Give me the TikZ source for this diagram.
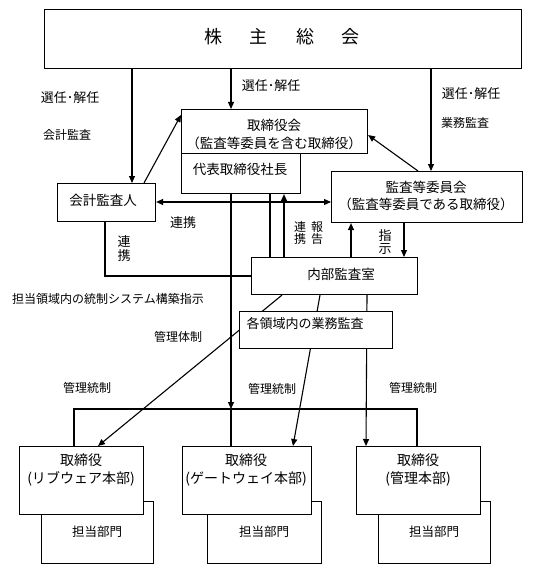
\documentclass[tikz,border=0pt]{standalone}
\usepackage{fontspec}
\setmainfont{Noto Sans CJK JP}
\usetikzlibrary{arrows.meta}
\begin{document}
\begin{tikzpicture}[x=1pt,y=-1pt,
  box/.style={draw, line width=1.1pt, fill=white, inner sep=0pt, anchor=north west},
  txt/.style={inner sep=0pt, align=center, font=\fontsize{13.5}{18}\selectfont},
  lbl/.style={inner sep=0pt, align=center, font=\fontsize{12}{14}\selectfont},
  ln/.style={line width=1.1pt},
  arr/.style={line width=1.1pt, -{Triangle[length=7pt,width=6pt]}},
  darr/.style={line width=1.1pt, {Triangle[length=7pt,width=6pt]}-{Triangle[length=7pt,width=6pt]}}]
\fill[white] (0,0) rectangle (536,575);
\useasboundingbox (0,0) rectangle (536,575);

% top boxes
\node[box, minimum width=477pt, minimum height=59pt] (soukai) at (44,9) {};
\node[txt, font=\fontsize{18}{20}\selectfont] (tsoukai) at (282,37) {株\hspace{28pt}主\hspace{28pt}総\hspace{28pt}会};
\node[box, minimum width=186pt, minimum height=44pt] (torikai) at (181,109) {};
\node[txt] (ttorikai) at (274,134) {取締役会\\（監査等委員を含む取締役）};
\node[box, minimum width=119pt, minimum height=40pt] (daihyo) at (181,153) {};
\node[txt] (tdaihyo) at (240,169) {代表取締役社長};
\node[box, minimum width=98pt, minimum height=38pt] (kaikei) at (57,183) {};
\node[txt] (tkaikei) at (103,200) {会計監査人};
\node[box, minimum width=191pt, minimum height=51pt] (kansa) at (331,171) {};
\node[txt, font=\fontsize{13.5}{17}\selectfont] (tkansa) at (426,196) {監査等委員会\\（監査等委員である取締役）};
\node[box, minimum width=166pt, minimum height=37pt] (naibu) at (251,257) {};
\node[txt] (tnaibu) at (341,274) {内部監査室};

% bottom boxes
\node[box, minimum width=112pt, minimum height=62pt] (d1) at (41,501) {};
\node[box, minimum width=114pt, minimum height=62pt] (d2) at (207,501) {};
\node[box, minimum width=112pt, minimum height=62pt] (d3) at (378,501) {};
\node[lbl, font=\fontsize{12.5}{14}\selectfont] (td1) at (97,532) {担当部門};
\node[lbl, font=\fontsize{12.5}{14}\selectfont] (td2) at (264,532) {担当部門};
\node[lbl, font=\fontsize{12.5}{14}\selectfont] (td3) at (434,532) {担当部門};
\node[box, minimum width=124pt, minimum height=68pt] (b1) at (19,446) {};
\node[box, minimum width=129pt, minimum height=68pt] (b2) at (182,446) {};
\node[box, minimum width=124pt, minimum height=68pt] (b3) at (356,446) {};
\node[txt, font=\fontsize{14}{18}\selectfont] (tb1) at (81,470) {取締役\\(リブウェア本部)};
\node[txt, font=\fontsize{14}{18}\selectfont] (tb2) at (246,470) {取締役\\(ゲートウェイ本部)};
\node[txt, font=\fontsize{14}{18}\selectfont] (tb3) at (418,470) {取締役\\(管理本部)};

% connectors from the shareholders meeting
\draw[arr] (soukai.south -| 132,0) -- (kaikei.north -| 132,0);
\draw[arr] (soukai.south -| 231,0) -- (torikai.north -| 231,0);
\draw[arr] (soukai.south -| 431,0) -- (kansa.north -| 431,0);
\draw[arr] (kaikei.north -| 144,0) -- (torikai.west |- 0,115);
\draw[arr] (kansa.north -| 418,0) -- (torikai.east |- 0,135);

% middle
\draw[ln] (daihyo.south -| 270,0) -- (naibu.north -| 270,0);
\draw[arr] (naibu.north -| 284,0) -- (daihyo.south -| 284,0);
\draw[arr] (naibu.north -| 351,0) -- (kansa.south -| 351,0);
\draw[arr] (kansa.south -| 404,0) -- (naibu.north -| 404,0);
\draw[ln] (kaikei.south -| 105,0) |- (naibu.west |- 0,276);
\coordinate (bus) at (231,409);
\coordinate (busL) at (74,409);
\coordinate (busR) at (417,409);
\draw[arr] (daihyo.south -| bus) -- (bus);
\draw[ln] (b1.north -| busL) -- (busL) -- (busR) -- (b3.north -| busR);
\draw[ln] (bus) -- (b2.north -| bus);
\draw[darr] (kaikei.east |- 0,202) -- (kansa.west |- 0,202);

% lines from internal audit down to the divisions
\draw[arr] (naibu.south -| 282,0) -- (b1.north -| 98,0);
\draw[arr] (naibu.south -| 320,0) -- (b2.north -| 293,0);
\draw[arr] (naibu.south -| 367,0) -- (b3.north -| 366,0);
\node[box, minimum width=153pt, minimum height=37pt] (kaku) at (239,311) {};
\node[txt, font=\fontsize{13}{16}\selectfont] (tkaku) at (305,324) {各領域内の業務監査};

% labels
\node[lbl, font=\fontsize{13}{15}\selectfont] (l1) at (70,98) {選任･解任};
\node[lbl] (l2) at (67,135) {会計監査};
\node[lbl, font=\fontsize{13}{15}\selectfont] (l3) at (271,86) {選任･解任};
\node[lbl, font=\fontsize{13}{15}\selectfont] (l4) at (471,94) {選任･解任};
\node[lbl] (l5) at (465,123) {業務監査};
\node[lbl, font=\fontsize{13}{15}\selectfont] (l6) at (183,223) {連携};
\node[lbl, font=\fontsize{13}{14}\selectfont] (l7) at (124,249) {連\\携};
\node[lbl, font=\fontsize{12}{12}\selectfont] (l8) at (300,233) {連\\携};
\node[lbl, font=\fontsize{12}{12}\selectfont] (l9) at (317,233) {報\\告};
\node[lbl, font=\fontsize{13}{13}\selectfont] (l10) at (385,242.5) {指\\示};
\node[lbl] (l11) at (108,299) {担当領域内の統制システム構築指示};
\node[lbl] (l12) at (178,337) {管理体制};
\node[lbl] (l13) at (87,388) {管理統制};
\node[lbl] (l14) at (272,389) {管理統制};
\node[lbl] (l15) at (413,388) {管理統制};
\end{tikzpicture}
\end{document}
